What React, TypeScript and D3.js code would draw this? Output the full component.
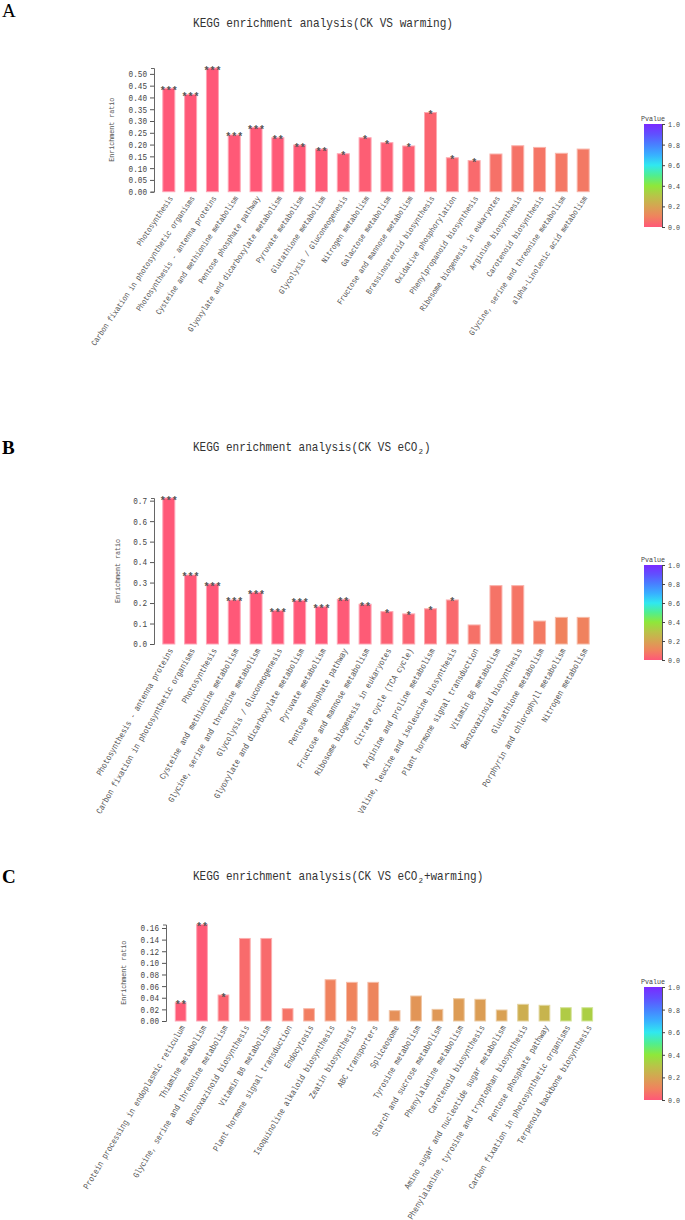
import React, { useEffect, useRef } from 'react';
import * as d3 from 'd3';

// ---- data: panel A (CK VS warming)
const aLabels = [
  'Photosynthesis',
  'Carbon fixation in photosynthetic organisms',
  'Photosynthesis - antenna proteins',
  'Cysteine and methionine metabolism',
  'Pentose phosphate pathway',
  'Glyoxylate and dicarboxylate metabolism',
  'Pyruvate metabolism',
  'Glutathione metabolism',
  'Glycolysis / Gluconeogenesis',
  'Nitrogen metabolism',
  'Galactose metabolism',
  'Fructose and mannose metabolism',
  'Brassinosteroid biosynthesis',
  'Oxidative phosphorylation',
  'Phenylpropanoid biosynthesis',
  'Ribosome biogenesis in eukaryotes',
  'Arginine biosynthesis',
  'Carotenoid biosynthesis',
  'Glycine, serine and threonine metabolism',
  'alpha-Linolenic acid metabolism',
];
const aRatio = [0.439, 0.413, 0.525, 0.241, 0.273, 0.229, 0.198, 0.181, 0.161, 0.229, 0.208, 0.194, 0.336, 0.144, 0.132, 0.16, 0.195, 0.188, 0.163, 0.181];
const aPvalue = [0.001, 0.001, 0.001, 0.002, 0.002, 0.004, 0.005, 0.006, 0.012, 0.014, 0.016, 0.018, 0.03, 0.034, 0.042, 0.06, 0.065, 0.07, 0.075, 0.078];
const aStars = ['***', '***', '***', '***', '***', '**', '**', '**', '*', '*', '*', '*', '*', '*', '*', '', '', '', '', ''];

// ---- data: panel B (CK VS eCO2)
const bLabels = [
  'Photosynthesis - antenna proteins',
  'Carbon fixation in photosynthetic organisms',
  'Photosynthesis',
  'Cysteine and methionine metabolism',
  'Glycine, serine and threonine metabolism',
  'Glycolysis / Gluconeogenesis',
  'Glyoxylate and dicarboxylate metabolism',
  'Pyruvate metabolism',
  'Pentose phosphate pathway',
  'Fructose and mannose metabolism',
  'Ribosome biogenesis in eukaryotes',
  'Citrate cycle (TCA cycle)',
  'Arginine and proline metabolism',
  'Valine, leucine and isoleucine biosynthesis',
  'Plant hormone signal transduction',
  'Vitamin B6 metabolism',
  'Benzoxazinoid biosynthesis',
  'Glutathione metabolism',
  'Porphyrin and chlorophyll metabolism',
  'Nitrogen metabolism',
];
const bRatio = [0.713, 0.337, 0.293, 0.215, 0.252, 0.163, 0.212, 0.182, 0.218, 0.194, 0.158, 0.147, 0.172, 0.215, 0.093, 0.285, 0.285, 0.112, 0.13, 0.13];
const bPvalue = [0.0001, 0.0002, 0.0003, 0.0005, 0.0005, 0.0008, 0.0008, 0.0009, 0.005, 0.006, 0.02, 0.025, 0.03, 0.04, 0.06, 0.065, 0.068, 0.08, 0.1, 0.1];
const bStars = ['***', '***', '***', '***', '***', '***', '***', '***', '**', '**', '*', '*', '*', '*', '', '', '', '', '', ''];

// ---- data: panel C (CK VS eCO2+warming)
const cLabels = [
  'Protein processing in endoplasmic reticulum',
  'Thiamine metabolism',
  'Glycine, serine and threonine metabolism',
  'Benzoxazinoid biosynthesis',
  'Vitamin B6 metabolism',
  'Plant hormone signal transduction',
  'Endocytosis',
  'Isoquinoline alkaloid biosynthesis',
  'Zeatin biosynthesis',
  'ABC transporters',
  'Spliceosome',
  'Tyrosine metabolism',
  'Starch and sucrose metabolism',
  'Phenylalanine metabolism',
  'Carotenoid biosynthesis',
  'Amino sugar and nucleotide sugar metabolism',
  'Phenylalanine, tyrosine and tryptophan biosynthesis',
  'Pentose phosphate pathway',
  'Carbon fixation in photosynthetic organisms',
  'Terpenoid backbone biosynthesis',
];
const cRatio = [0.0315, 0.166, 0.0447, 0.142, 0.142, 0.0212, 0.0212, 0.071, 0.0665, 0.0665, 0.0178, 0.043, 0.02, 0.0384, 0.0373, 0.0189, 0.0287, 0.027, 0.0229, 0.0229];
const cPvalue = [0.008, 0.004, 0.03, 0.045, 0.045, 0.065, 0.09, 0.1, 0.105, 0.11, 0.14, 0.155, 0.165, 0.175, 0.18, 0.19, 0.23, 0.25, 0.32, 0.33];
const cStars = ['**', '**', '*', '', '', '', '', '', '', '', '', '', '', '', '', '', '', '', '', ''];

// p-value colour ramp (legend)
const pStops = [0, 0.1, 0.2, 0.3, 0.4, 0.5, 0.6, 0.7, 0.8, 0.9, 1];
const pColors = ['#ff5878', '#f0825e', '#d6a452', '#b8c448', '#8ee83a', '#50ee90', '#30e8f0', '#38b0ff', '#4880ff', '#6050ff', '#7a2aff'];
const pColor = d3.scaleLinear<string>().domain(pStops).range(pColors).interpolate(d3.interpolateRgb).clamp(true);

const MONO = '"Liberation Mono", "DejaVu Sans Mono", monospace';
const SERIF = '"Liberation Serif", "Times New Roman", serif';

const panels = [
  {
    id: 'A', bold: false, letterY: 17, titleY: 27, title: ['KEGG enrichment analysis(CK VS warming)'], titleLen: 260,
    labels: aLabels, ratio: aRatio, pvalue: aPvalue, stars: aStars,
    axisX: 154, y0: 191.7, yTop: 68, x0: 153, x1: 599, pad: 0.45, fmt: '.2f', angle: 56, labelSize: 8.3, yLabelX: 114,
    legTop: 124, legBottom: 227,
  },
  {
    id: 'B', bold: true, letterY: 454, titleY: 451, title: ['KEGG enrichment analysis(CK VS eCO', ')'], titleLen: 237,
    labels: bLabels, ratio: bRatio, pvalue: bPvalue, stars: bStars,
    axisX: 154, y0: 644, yTop: 498, x0: 153, x1: 599, pad: 0.45, fmt: '.1f', angle: 60, labelSize: 8.8, yLabelX: 120,
    legTop: 565, legBottom: 660,
  },
  {
    id: 'C', bold: true, letterY: 883, titleY: 880, title: ['KEGG enrichment analysis(CK VS eCO', '+warming)'], titleLen: 261,
    labels: cLabels, ratio: cRatio, pvalue: cPvalue, stars: cStars,
    axisX: 166, y0: 1021, yTop: 924.5, x0: 164.6, x1: 603.3, pad: 0.5, fmt: '.2f', angle: 59, labelSize: 8.8, yLabelX: 126,
    legTop: 987, legBottom: 1100,
  },
];

type PanelCfg = typeof panels[number];

const Panel = ({ cfg }: { cfg: PanelCfg }) => {
  const ref = useRef<SVGGElement | null>(null);

  useEffect(() => {
    const g = d3.select(ref.current);
    g.selectAll('*').remove();

    const data = cfg.labels.map((label, i) => ({ label, ratio: cfg.ratio[i], p: cfg.pvalue[i], star: cfg.stars[i] }));

    const x = d3.scaleBand().domain(cfg.labels).range([cfg.x0, cfg.x1]).padding(cfg.pad);
    const y = d3.scaleLinear().domain([0, d3.max(cfg.ratio) ?? 1]).range([cfg.y0, cfg.yTop]);

    // panel letter
    g.append('text')
      .attr('x', 2).attr('y', cfg.letterY)
      .style('font-family', SERIF).style('font-size', '19px')
      .style('font-weight', cfg.bold ? 'bold' : 'normal')
      .attr('fill', '#000')
      .text(cfg.id);

    // title (the "2" of CO2 is a separate subscript text)
    const t = g.append('text')
      .attr('x', 193).attr('y', cfg.titleY)
      .style('font-family', MONO).style('font-size', '13.5px')
      .attr('fill', '#333');
    if (cfg.title.length > 1) {
      const headLen = cfg.title[0].length * 6.6;
      t.attr('textLength', headLen).attr('lengthAdjust', 'spacingAndGlyphs').text(cfg.title[0]);
      g.append('text')
        .attr('x', 193 + headLen + 1).attr('y', cfg.titleY + 2.5)
        .style('font-family', MONO).style('font-size', '7.5px')
        .attr('fill', '#333')
        .text('2');
      g.append('text')
        .attr('x', 193 + headLen + 6.5).attr('y', cfg.titleY)
        .attr('textLength', cfg.title[1].length * 6.6).attr('lengthAdjust', 'spacingAndGlyphs')
        .style('font-family', MONO).style('font-size', '13.5px')
        .attr('fill', '#333')
        .text(cfg.title[1]);
    } else {
      t.attr('textLength', cfg.titleLen).attr('lengthAdjust', 'spacingAndGlyphs').text(cfg.title[0]);
    }

    // bars
    g.selectAll('rect.bar')
      .data(data)
      .enter()
      .append('rect')
      .attr('class', 'bar')
      .attr('x', d => x(d.label) ?? 0)
      .attr('y', d => y(d.ratio))
      .attr('width', x.bandwidth())
      .attr('height', d => cfg.y0 - y(d.ratio))
      .attr('fill', d => pColor(d.p))
      .attr('stroke', d => d3.interpolateRgb(pColor(d.p), '#ffffff')(0.45))
      .attr('stroke-width', 1);

    // significance stars
    g.selectAll('text.star')
      .data(data.filter(d => d.star))
      .enter()
      .append('text')
      .attr('class', 'star')
      .attr('x', d => (x(d.label) ?? 0) + x.bandwidth() / 2)
      .attr('y', d => y(d.ratio) + 5.5)
      .attr('text-anchor', 'middle')
      .style('font-family', MONO).style('font-size', '10px')
      .style('font-weight', 'bold')
      .attr('fill', '#555')
      .text(d => d.star);

    // y axis
    const ax = g.append('g')
      .attr('transform', `translate(${cfg.axisX},0)`)
      .call(d3.axisLeft(y).ticks(10).tickFormat(d3.format(cfg.fmt) as any).tickSize(4).tickSizeOuter(3).tickPadding(3));
    ax.select('.domain').attr('stroke', '#666');
    ax.selectAll('.tick line').attr('stroke', '#555');
    ax.selectAll<SVGTextElement, unknown>('text')
      .style('font-family', MONO).style('font-size', '9px')
      .attr('fill', '#444')
      .attr('textLength', function () { return (this.textContent || '').length * 4.6; })
      .attr('lengthAdjust', 'spacingAndGlyphs');

    // y label
    g.append('text')
      .attr('transform', `translate(${cfg.yLabelX},${(cfg.y0 + cfg.yTop) / 2}) rotate(-90)`)
      .attr('text-anchor', 'middle')
      .attr('textLength', 64).attr('lengthAdjust', 'spacingAndGlyphs')
      .style('font-family', MONO).style('font-size', '8px')
      .attr('fill', '#555')
      .text('Enrichment ratio');

    // category labels
    g.selectAll('text.xl')
      .data(data)
      .enter()
      .append('text')
      .attr('class', 'xl')
      .attr('transform', d => `translate(${(x(d.label) ?? 0) + x.bandwidth() / 2 + 2},${cfg.y0 + 5}) rotate(${-cfg.angle})`)
      .attr('text-anchor', 'end')
      .attr('dy', '0.35em')
      .attr('textLength', d => d.label.length * cfg.labelSize * 0.5)
      .attr('lengthAdjust', 'spacingAndGlyphs')
      .style('font-family', MONO).style('font-size', cfg.labelSize + 'px')
      .attr('fill', '#555')
      .text(d => d.label);

    // legend
    const gid = `grad-${cfg.id}`;
    const grad = g.append('defs').append('linearGradient')
      .attr('id', gid).attr('x1', 0).attr('y1', 1).attr('x2', 0).attr('y2', 0);
    pStops.forEach(s => {
      grad.append('stop').attr('offset', s).attr('stop-color', pColor(s));
    });
    g.append('rect')
      .attr('x', 644).attr('y', cfg.legTop)
      .attr('width', 18).attr('height', cfg.legBottom - cfg.legTop)
      .attr('fill', `url(#${gid})`);
    g.append('text')
      .attr('x', 653).attr('y', cfg.legTop - 3)
      .attr('text-anchor', 'middle')
      .attr('textLength', 24).attr('lengthAdjust', 'spacingAndGlyphs')
      .style('font-family', MONO).style('font-size', '8px')
      .attr('fill', '#444')
      .text('Pvalue');
    const ly = d3.scaleLinear().domain([0, 1]).range([cfg.legBottom, cfg.legTop]);
    const lax = g.append('g')
      .attr('transform', 'translate(662,0)')
      .call(d3.axisRight(ly).tickValues([0, 0.2, 0.4, 0.6, 0.8, 1]).tickFormat(d3.format('.1f') as any).tickSize(3).tickSizeOuter(0).tickPadding(3));
    lax.select('.domain').attr('stroke', '#555');
    lax.selectAll('.tick line').attr('stroke', '#444');
    lax.selectAll('text')
      .style('font-family', MONO).style('font-size', '8px')
      .attr('fill', '#444')
      .attr('textLength', 12).attr('lengthAdjust', 'spacingAndGlyphs');
  }, [cfg]);

  return <g ref={ref}></g>;
};

const App = () => {
  return (
    <div style={{ position: 'absolute', left: 0, top: 0, width: 685, height: 1220, background: '#fff' }}>
      <svg width={685} height={1220} style={{ display: 'block' }}>
        <rect x={0} y={0} width={685} height={1220} fill="#ffffff" />
        {panels.map(p => <Panel key={p.id} cfg={p} />)}
      </svg>
    </div>
  );
};

export default App;
